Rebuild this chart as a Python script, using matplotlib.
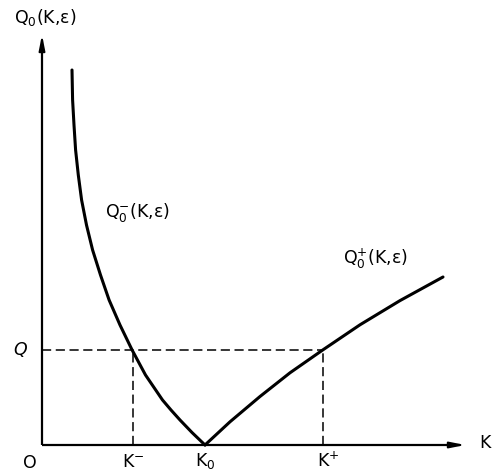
import matplotlib

matplotlib.use("Agg")

import matplotlib.pyplot as plt

# curve samples (arbitrary units, origin at O)
k_minus_branch = [0.30, 0.306, 0.32, 0.336, 0.363, 0.396, 0.445, 0.506, 0.585,
                  0.671, 0.78, 0.901, 1.035, 1.205, 1.29, 1.38, 1.50, 1.63]
q_minus_branch = [3.75, 3.45, 3.2, 2.95, 2.7, 2.45, 2.2, 1.95, 1.7,
                  1.45, 1.2, 0.95, 0.7, 0.45, 0.35, 0.25, 0.125, 0.0]
k_plus_branch = [1.63, 1.88, 2.18, 2.48, 2.81, 3.18, 3.58, 4.01]
q_plus_branch = [0.0, 0.232, 0.485, 0.722, 0.952, 1.202, 1.444, 1.68]

Q_LEVEL = 0.95
K_MINUS = 0.91
K_ZERO = 1.63
K_PLUS = 2.81

plt.rcParams["font.family"] = ["DejaVu Sans"]
plt.rcParams["mathtext.default"] = "regular"

fig = plt.figure(figsize=(4.93, 4.72), dpi=100)
ax = fig.add_axes([0, 0, 1, 1])
ax.set_xlim(-0.42, 4.51)
ax.set_ylim(-0.27, 4.45)
ax.axis("off")

# axes with arrows
ax.plot([0, 0], [0, 4.05], color="black", lw=1.6, solid_capstyle="butt")
ax.plot([0, 4.18], [0, 0], color="black", lw=1.6, solid_capstyle="butt")
ax.annotate("", xy=(0, 4.13), xytext=(0, 3.95),
            arrowprops=dict(arrowstyle="-|>,head_length=0.9,head_width=0.18", color="black", lw=1.4))
ax.annotate("", xy=(4.26, 0), xytext=(4.08, 0),
            arrowprops=dict(arrowstyle="-|>,head_length=0.9,head_width=0.18", color="black", lw=1.4))

# curves
ax.plot(k_minus_branch, q_minus_branch, color="black", lw=2.2,
        solid_capstyle="round", solid_joinstyle="round")
ax.plot(k_plus_branch, q_plus_branch, color="black", lw=2.2,
        solid_capstyle="round", solid_joinstyle="round")

# dashed guides
dash = dict(color="black", lw=1.1, dashes=(6, 3))
ax.plot([0, K_PLUS], [Q_LEVEL, Q_LEVEL], **dash)
ax.plot([K_MINUS, K_MINUS], [0, Q_LEVEL], **dash)
ax.plot([K_PLUS, K_PLUS], [0, Q_LEVEL], **dash)

fs = 12.5
ax.text(0.03, 4.28, "Q$_0$(K,ε)", fontsize=fs, ha="center", va="center")
ax.text(0.95, 2.33, "Q$_0^{-}$(K,ε)", fontsize=fs, ha="center", va="center")
ax.text(3.33, 1.86, "Q$_0^{+}$(K,ε)", fontsize=fs, ha="center", va="center")
ax.text(-0.22, Q_LEVEL, "Q", fontsize=fs, ha="center", va="center", style="italic")
ax.text(-0.12, -0.18, "O", fontsize=fs, ha="center", va="center")
ax.text(K_MINUS, -0.17, "K$^{-}$", fontsize=fs, ha="center", va="center")
ax.text(K_ZERO, -0.16, "K$_0$", fontsize=fs, ha="center", va="center")
ax.text(K_PLUS + 0.05, -0.16, "K$^{+}$", fontsize=fs, ha="center", va="center")
ax.text(4.43, 0.02, "K", fontsize=fs, ha="center", va="center")

fig.savefig("out.png", dpi=100)
